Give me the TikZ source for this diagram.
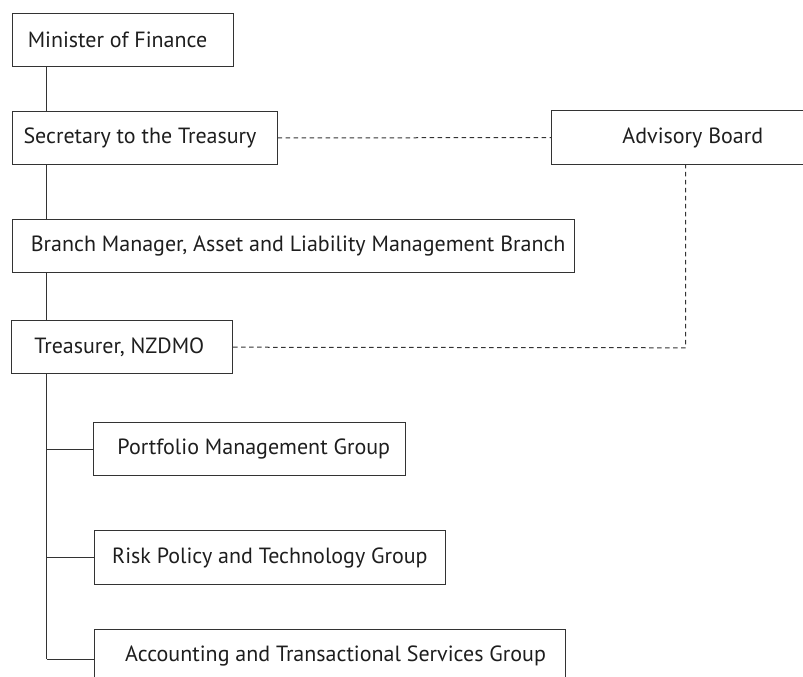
\documentclass[tikz,border=0pt]{standalone}
\usepackage{fontspec}
\setmainfont{PT Sans}
\definecolor{linec}{HTML}{333333}
\definecolor{textc}{HTML}{1E1E1E}
\tikzset{
  orgbox/.style={draw=linec, line width=1pt, minimum height=53.5pt, inner sep=0pt,
    text=textc, font=\fontsize{22}{26}\selectfont, anchor=center},
  solidlink/.style={draw=linec, line width=1pt},
  dashlink/.style={draw=linec, line width=1pt, dash pattern=on 4.5pt off 3.5pt}
}
\begin{document}
\begin{tikzpicture}[x=1pt, y=-1pt]
\useasboundingbox (0,0) rectangle (803,677);
\clip (0,0) rectangle (803,677);
\node[orgbox, minimum width=221pt] (min) at (122.5,40) {Minister of Finance\hspace*{10pt}};
\node[orgbox, minimum width=265pt] (sec) at (144.5,137.8) {Secretary to the Treasury\hspace*{9pt}};
\node[orgbox, minimum width=282.6pt] (adv) at (692.8,137.7) {Advisory Board};
\node[orgbox, minimum width=562.3pt] (bra) at (293.2,246) {\hspace*{10pt}Branch Manager, Asset and Liability Management Branch};
\node[orgbox, minimum width=220.7pt] (tre) at (122.3,347.2) {Treasurer, NZDMO\hspace*{6pt}};
\node[orgbox, minimum width=311.7pt] (por) at (249.8,449.2) {\hspace*{8pt}Portfolio Management Group};
\node[orgbox, minimum width=351.8pt] (ris) at (269.9,557.5) {Risk Policy and Technology Group};
\node[orgbox, minimum width=471.2pt] (acc) at (329.6,656) {\hspace*{12pt}Accounting and Transactional Services Group};
\coordinate (tx) at (46.7,0);
\coordinate (corner) at (685.7,347.8);
\coordinate (trunkend) at (46.7,659.3);
% solid hierarchy
\draw[solidlink] (min.south -| tx) -- (sec.north -| tx);
\draw[solidlink] (sec.south -| tx) -- (bra.north -| tx);
\draw[solidlink] (bra.south -| tx) -- (tre.north -| tx);
\draw[solidlink] (tre.south -| tx) -- (trunkend);
\draw[solidlink] (por.west -| tx) -- (por.west);
\draw[solidlink] (ris.west -| tx) -- (ris.west);
\draw[solidlink] (trunkend) -- (trunkend -| acc.west);
% dashed advisory links
\draw[dashlink] (sec.east) -- (adv.west);
\draw[dashlink] (tre.east) -- (corner) -- (corner |- adv.south);
\end{tikzpicture}
\end{document}
